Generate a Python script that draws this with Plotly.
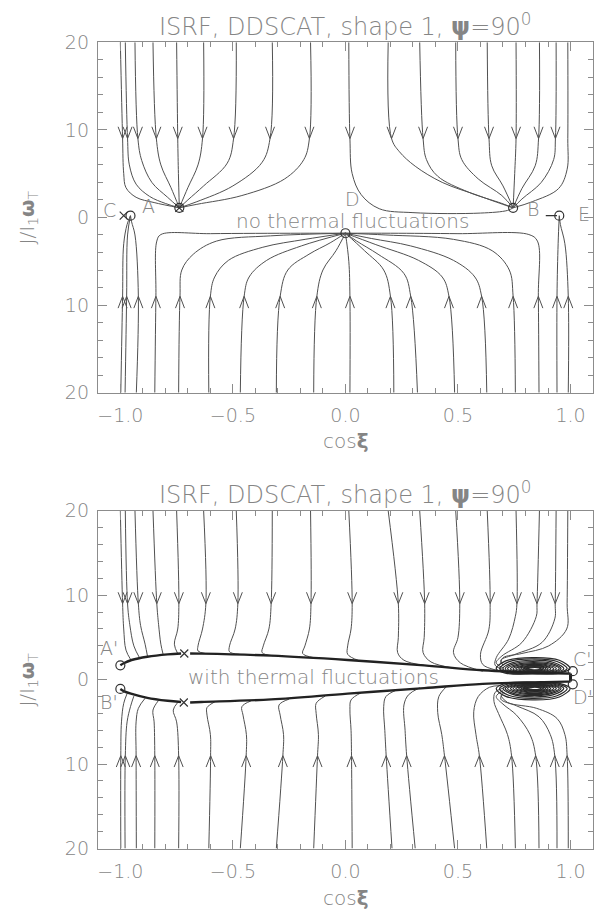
import plotly.graph_objects as go

# ---------------- data ----------------
X_TICKS = [-1.0, -0.5, 0.0, 0.5, 1.0]
X_TICK_TEXT = ["\u22121.0", "\u22120.5", "0.0", "0.5", "1.0"]
Y_TICKS = [-20, -10, 0, 10, 20]
Y_TICK_TEXT = ["20", "10", "0", "10", "20"]

TITLE = "ISRF, DDSCAT, shape 1, <b>\u03c8</b>=90<sup>0</sup>"

# top panel: trajectories coming from J>0 (flow downward)
TU_X = [
    [-1.0, -0.99, -0.985, -0.975, -0.93, -0.85, -0.738],
    [-0.978, -0.968, -0.96, -0.93, -0.87, -0.80, -0.738],
    [-0.935, -0.922, -0.905, -0.86, -0.79, -0.738],
    [-0.855, -0.84, -0.82, -0.775, -0.738],
    [-0.75, -0.745, -0.742, -0.738],
    [-0.63, -0.635, -0.655, -0.70, -0.738],
    [-0.485, -0.497, -0.525, -0.63, -0.70, -0.738],
    [-0.325, -0.335, -0.37, -0.50, -0.66, -0.738],
    [-0.155, -0.16, -0.185, -0.27, -0.46, -0.66, -0.738],
    [0.015, 0.02, 0.03, 0.07, 0.15, 0.30, 0.60, 0.72, 0.745],
    [0.19, 0.205, 0.24, 0.31, 0.43, 0.59, 0.71, 0.745],
    [0.33, 0.345, 0.36, 0.41, 0.546, 0.695, 0.745],
    [0.49, 0.5, 0.517, 0.59, 0.695, 0.745],
    [0.63, 0.638, 0.65, 0.70, 0.745],
    [0.758, 0.758, 0.752, 0.745],
    [0.862, 0.858, 0.843, 0.784, 0.745],
    [0.936, 0.933, 0.925, 0.87, 0.784, 0.745],
    [0.988, 0.988, 0.985, 0.947, 0.83, 0.745],
]
TU_Y = [
    [20, 9, 5, 3.4, 2.3, 1.7, 1.1],
    [20, 9, 6, 3.8, 2.4, 1.6, 1.1],
    [20, 9, 6.5, 4.0, 2.3, 1.1],
    [20, 9, 6, 3.4, 1.1],
    [20, 9, 5, 1.1],
    [20, 9, 6, 3.4, 1.1],
    [20, 9, 6.2, 3.6, 2.0, 1.1],
    [20, 9, 6.3, 3.6, 1.8, 1.1],
    [20, 9, 6.6, 4.4, 2.5, 1.5, 1.1],
    [20, 9, 5, 2.6, 1.0, 0.55, 0.5, 0.8, 1.1],
    [20, 9, 7.5, 5.85, 4.0, 2.5, 1.4, 1.1],
    [20, 9, 6.6, 4.7, 2.9, 1.6, 1.1],
    [20, 9, 6.6, 4.4, 2.5, 1.1],
    [20, 9, 5.9, 3.6, 1.1],
    [20, 9, 5, 1.1],
    [20, 9, 5.9, 3.3, 1.1],
    [20, 9, 6.6, 4.0, 2.1, 1.1],
    [20, 9, 5.5, 3.3, 1.8, 1.1],
]
TU_ARROW = [1] * 17 + [0]

# top panel: trajectories coming from J<0 (flow upward)
TL_X = [
    [-0.998, -0.99, -0.985, -0.97, -0.955],
    [-0.979, -0.972, -0.968, -0.955],
    [-0.929, -0.92, -0.935, -0.95, -0.955],
    [-0.847, -0.842, -0.838, -0.82, -0.6, -0.2, 0.0],
    [-0.741, -0.735, -0.727, -0.676, -0.573, -0.333, 0.0],
    [-0.607, -0.6, -0.581, -0.52, -0.367, -0.179, 0.0],
    [-0.467, -0.45, -0.428, -0.35, -0.196, 0.0],
    [-0.307, -0.29, -0.256, -0.162, -0.068, 0.0],
    [-0.141, -0.127, -0.1, -0.042, 0.0],
    [0.02, 0.02, 0.015, 0.0],
    [0.215, 0.2, 0.17, 0.085, 0.0],
    [0.32, 0.29, 0.26, 0.145, 0.05, 0.0],
    [0.485, 0.46, 0.43, 0.325, 0.135, 0.0],
    [0.628, 0.605, 0.575, 0.48, 0.29, 0.115, 0.0],
    [0.755, 0.745, 0.728, 0.652, 0.48, 0.18, 0.0],
    [0.86, 0.857, 0.853, 0.815, 0.5, 0.2, 0.0],
    [0.94, 0.94, 0.945, 0.95],
    [0.99, 0.99, 0.975, 0.955, 0.95],
]
TL_Y = [
    [-20, -9, -3, -0.8, 0.2],
    [-20, -9, -2, 0.2],
    [-20, -9, -2, -0.5, 0.2],
    [-20, -9, -2.7, -1.95, -1.85, -1.8, -1.8],
    [-20, -9, -6.0, -4.2, -2.7, -2.1, -1.8],
    [-20, -9, -6.8, -4.9, -3.4, -2.5, -1.8],
    [-20, -9, -6.8, -4.9, -3.25, -1.8],
    [-20, -9, -6.0, -4.2, -2.9, -1.8],
    [-20, -9, -6.0, -3.8, -1.8],
    [-20, -9, -5, -1.8],
    [-20, -9, -6.0, -3.8, -1.8],
    [-20, -9, -6.4, -4.2, -2.7, -1.8],
    [-20, -9, -6.8, -4.9, -3.1, -1.8],
    [-20, -9, -6.8, -4.9, -3.25, -2.4, -1.8],
    [-20, -9, -6.0, -3.8, -2.5, -2.0, -1.8],
    [-20, -9, -2.7, -1.95, -1.85, -1.8, -1.8],
    [-20, -9, -3, 0.2],
    [-20, -9, -3, -0.8, 0.2],
]
TL_ARROW = [1] * 18

TOP_CIRCLE_X = [-0.738, 0.745, -0.955, 0.0, 0.95]
TOP_CIRCLE_Y = [1.1, 1.1, 0.2, -1.8, 0.2]
TOP_CROSS_X = [-0.985, -0.738]
TOP_CROSS_Y = [0.2, 1.1]
TOP_DASH_X = [0.915]
TOP_DASH_Y = [0.2]
TOP_LABELS = ["C", "A", "D", "B", "E"]
TOP_LABEL_X = [-1.05, -0.875, 0.03, 0.835, 1.06]
TOP_LABEL_Y = [0.9, 1.3, 2.1, 1.0, 0.4]
TOP_NOTE = "no thermal fluctuations"
TOP_NOTE_XY = [0.03, -0.35]

# bottom panel: attracting curves
UCL_X = [-0.73, -0.79, -0.88, -0.95, -0.985, -1.0]
UCL_Y = [3.1, 3.0, 2.72, 2.33, 1.95, 1.7]
UCR_X = [-0.69, -0.64, -0.33, 0.01, 0.35, 0.61, 0.866, 0.985, 1.0]
UCR_Y = [3.1, 3.08, 2.84, 2.33, 1.69, 1.11, 0.8, 0.72, 0.72]
LCL_X = [-0.73, -0.79, -0.88, -0.953, -0.985, -1.0]
LCL_Y = [-2.65, -2.5, -2.15, -1.65, -1.35, -1.1]
LCR_X = [-0.69, -0.64, -0.33, 0.01, 0.35, 0.61, 0.866, 0.985, 1.0]
LCR_Y = [-2.7, -2.64, -2.34, -1.65, -1.0, -0.5, -0.3, -0.23, -0.23]
LINK_X = [1.0, 1.0]
LINK_Y = [0.72, -0.23]

BU_X = [
    [-1.0, -0.99, -0.985, -0.975, -0.953],
    [-0.978, -0.968, -0.958, -0.94, -0.915],
    [-0.935, -0.92, -0.91, -0.89, -0.879],
    [-0.855, -0.838, -0.83, -0.82, -0.81],
    [-0.75, -0.74, -0.745, -0.76, -0.745],
    [-0.63, -0.62, -0.635, -0.655, -0.655, -0.62],
    [-0.485, -0.478, -0.49, -0.515, -0.515, -0.47],
    [-0.325, -0.33, -0.34, -0.365, -0.37, -0.32],
    [-0.155, -0.153, -0.16, -0.18, -0.19, -0.14],
    [0.015, 0.03, 0.025, 0.01, 0.01, 0.06],
    [0.19, 0.235, 0.235, 0.232, 0.26, 0.35],
    [0.33, 0.352, 0.35, 0.345, 0.38, 0.487],
    [0.49, 0.508, 0.50, 0.48, 0.51, 0.61],
    [0.63, 0.643, 0.637, 0.60, 0.61, 0.66, 0.70],
    [0.758, 0.762, 0.755, 0.725, 0.67, 0.665, 0.70],
    [0.862, 0.851, 0.848, 0.784, 0.695, 0.67, 0.70],
    [0.936, 0.932, 0.93, 0.873, 0.754, 0.69, 0.70],
    [0.988, 0.985, 0.983, 0.903, 0.784, 0.70, 0.69],
]
BU_Y = [
    [20, 9, 6, 3.5, 2.33],
    [20, 9, 6.5, 4.0, 2.6],
    [20, 9, 6.4, 4.2, 2.72],
    [20, 9, 6.5, 4.2, 3.0],
    [20, 9, 6, 4.2, 3.08],
    [20, 9, 6, 4.0, 3.4, 3.08],
    [20, 9, 6, 4.0, 3.3, 3.0],
    [20, 9, 6, 4.0, 3.2, 2.82],
    [20, 9, 6, 4.0, 3.1, 2.6],
    [20, 9, 6, 4.0, 3.0, 2.25],
    [20, 9, 5, 3.2, 2.3, 1.69],
    [20, 9, 5, 3.2, 2.1, 1.35],
    [20, 9, 5, 3.2, 2.0, 1.0],
    [20, 9, 5.9, 3.0, 1.8, 1.2, 1.0],
    [20, 9, 7.5, 4.8, 2.6, 1.7, 1.2],
    [20, 9, 7.5, 4.4, 2.8, 2.0, 1.4],
    [20, 9, 7.2, 4.4, 3.0, 2.3, 1.7],
    [20, 9, 6, 4.0, 3.1, 2.6, 2.0],
]
BU_ARROW = [1] * 17 + [0]

BL_X = [
    [-0.998, -0.998, -0.995, -0.985, -0.97],
    [-0.979, -0.978, -0.97, -0.955, -0.94],
    [-0.929, -0.93, -0.93, -0.92, -0.89],
    [-0.847, -0.847, -0.85, -0.855, -0.83],
    [-0.741, -0.741, -0.75, -0.765, -0.745],
    [-0.607, -0.599, -0.6, -0.615, -0.615, -0.58],
    [-0.467, -0.441, -0.44, -0.455, -0.46, -0.42],
    [-0.307, -0.278, -0.275, -0.29, -0.295, -0.25],
    [-0.141, -0.124, -0.12, -0.13, -0.13, -0.09],
    [0.03, 0.027, 0.025, 0.02, 0.025, 0.07],
    [0.207, 0.181, 0.175, 0.17, 0.18, 0.23],
    [0.31, 0.272, 0.265, 0.26, 0.28, 0.33],
    [0.485, 0.44, 0.428, 0.41, 0.415, 0.45],
    [0.628, 0.595, 0.58, 0.57, 0.59, 0.64, 0.69],
    [0.755, 0.738, 0.72, 0.68, 0.66, 0.665, 0.70],
    [0.86, 0.845, 0.82, 0.76, 0.70, 0.67, 0.70],
    [0.94, 0.93, 0.91, 0.86, 0.76, 0.69, 0.70],
    [0.99, 0.985, 0.975, 0.94, 0.85, 0.72, 0.69],
]
BL_Y = [
    [-20, -9, -5, -2.8, -1.65],
    [-20, -9, -5, -3.2, -1.95],
    [-20, -9, -5, -3.4, -2.2],
    [-20, -9, -5, -3.6, -2.45],
    [-20, -9, -5, -3.6, -2.7],
    [-20, -9, -6.5, -4.2, -3.3, -2.62],
    [-20, -9, -6.5, -4.2, -3.2, -2.52],
    [-20, -9, -6.5, -4.2, -3.0, -2.3],
    [-20, -9, -6.5, -4.0, -2.8, -1.95],
    [-20, -9, -6, -3.5, -2.4, -1.55],
    [-20, -9, -6, -3.2, -2.0, -1.2],
    [-20, -9, -6, -3.0, -1.8, -0.96],
    [-20, -9, -6.5, -3.9, -2.0, -0.8],
    [-20, -9, -6.5, -3.8, -2.0, -0.9, -0.7],
    [-20, -9, -6.5, -4.0, -2.6, -1.5, -1.0],
    [-20, -9, -6.5, -4.2, -2.9, -2.0, -1.3],
    [-20, -9, -6.5, -4.4, -3.1, -2.3, -1.6],
    [-20, -9, -6.5, -4.6, -3.4, -2.7, -1.9],
]
BL_ARROW = [1] * 18

# dense closed orbits near cos(xi) ~ 0.83
LOOP_X = [
    [0.67, 0.71, 0.83, 0.95, 0.998, 0.95, 0.83, 0.71, 0.67],
    [0.685, 0.725, 0.83, 0.94, 0.985, 0.94, 0.83, 0.725, 0.685],
    [0.70, 0.74, 0.83, 0.925, 0.97, 0.93, 0.83, 0.74, 0.70],
    [0.71, 0.75, 0.833, 0.915, 0.958, 0.92, 0.833, 0.75, 0.71],
    [0.72, 0.76, 0.835, 0.91, 0.95, 0.91, 0.835, 0.76, 0.72],
    [0.733, 0.77, 0.835, 0.9, 0.937, 0.9, 0.835, 0.77, 0.733],
    [0.745, 0.78, 0.835, 0.895, 0.925, 0.895, 0.835, 0.78, 0.745],
    [0.757, 0.79, 0.838, 0.888, 0.912, 0.888, 0.838, 0.79, 0.757],
    [0.77, 0.80, 0.84, 0.88, 0.90, 0.88, 0.84, 0.80, 0.77],
    [0.78, 0.808, 0.84, 0.872, 0.89, 0.872, 0.84, 0.808, 0.78],
    [0.79, 0.815, 0.84, 0.865, 0.88, 0.865, 0.84, 0.815, 0.79],
    [0.80, 0.822, 0.842, 0.86, 0.87, 0.86, 0.842, 0.822, 0.80],
]
LOOP_UP_Y = [
    [1.3, 2.2, 2.6, 2.3, 1.3, 0.78, 0.68, 0.78, 1.3],
    [1.3, 2.1, 2.45, 2.15, 1.3, 0.8, 0.7, 0.8, 1.3],
    [1.3, 1.98, 2.3, 2.03, 1.3, 0.84, 0.74, 0.84, 1.3],
    [1.3, 1.9, 2.15, 1.92, 1.3, 0.87, 0.77, 0.87, 1.3],
    [1.3, 1.8, 2.02, 1.82, 1.3, 0.9, 0.8, 0.9, 1.3],
    [1.3, 1.72, 1.9, 1.73, 1.3, 0.93, 0.83, 0.93, 1.3],
    [1.3, 1.65, 1.8, 1.65, 1.3, 0.95, 0.86, 0.95, 1.3],
    [1.3, 1.6, 1.7, 1.6, 1.3, 1.0, 0.9, 1.0, 1.3],
    [1.3, 1.55, 1.62, 1.55, 1.3, 1.05, 0.95, 1.05, 1.3],
    [1.3, 1.5, 1.56, 1.5, 1.3, 1.1, 1.02, 1.1, 1.3],
    [1.3, 1.45, 1.5, 1.45, 1.3, 1.15, 1.08, 1.15, 1.3],
    [1.3, 1.4, 1.44, 1.4, 1.3, 1.2, 1.15, 1.2, 1.3],
]
LOOP_LO_Y = [
    [-1.05, -1.95, -2.4, -2.05, -1.05, -0.45, -0.3, -0.45, -1.05],
    [-1.05, -1.85, -2.22, -1.9, -1.05, -0.5, -0.35, -0.5, -1.05],
    [-1.05, -1.72, -2.05, -1.78, -1.05, -0.55, -0.42, -0.55, -1.05],
    [-1.05, -1.65, -1.9, -1.66, -1.05, -0.6, -0.48, -0.6, -1.05],
    [-1.05, -1.55, -1.78, -1.56, -1.05, -0.65, -0.55, -0.65, -1.05],
    [-1.05, -1.48, -1.66, -1.48, -1.05, -0.68, -0.58, -0.68, -1.05],
    [-1.05, -1.4, -1.55, -1.4, -1.05, -0.72, -0.62, -0.72, -1.05],
    [-1.05, -1.35, -1.46, -1.35, -1.05, -0.76, -0.67, -0.76, -1.05],
    [-1.05, -1.3, -1.38, -1.3, -1.05, -0.8, -0.72, -0.8, -1.05],
    [-1.05, -1.25, -1.31, -1.25, -1.05, -0.85, -0.78, -0.85, -1.05],
    [-1.05, -1.2, -1.25, -1.2, -1.05, -0.9, -0.83, -0.9, -1.05],
    [-1.05, -1.15, -1.19, -1.15, -1.05, -0.95, -0.9, -0.95, -1.05],
]

BOT_CIRCLE_X = [-1.0, -1.0, 1.01, 1.01]
BOT_CIRCLE_Y = [1.7, -1.1, 1.0, -0.55]
BOT_CROSS_X = [-0.716, -0.718]
BOT_CROSS_Y = [3.1, -2.7]
BOT_LABELS = ["A'", "B'", "C'", "D'"]
BOT_LABEL_X = [-1.05, -1.05, 1.055, 1.055]
BOT_LABEL_Y = [3.8, -2.7, 2.45, -2.0]
BOT_NOTE = "with thermal fluctuations"
BOT_NOTE_XY = [-0.14, 0.3]

# ---------------- styling ----------------
FONT = "DejaVu Sans"
TXT = "#858585"
LINE = "#505050"
AXC = "#8c8c8c"
W, H = 607, 922
PX_L, PX_R = 97, 593
TOP_T, TOP_B = 32, 391
BOT_T, BOT_B = 512, 858

fig = go.Figure()


def add_line(xs, ys, xa, ya, width=1.0, color=LINE, spline=True):
    fig.add_trace(go.Scatter(
        x=xs, y=ys, xaxis=xa, yaxis=ya, mode="lines", hoverinfo="skip",
        line=dict(color=color, width=width,
                  shape="spline" if spline else "linear", smoothing=1.0)))


def add_group(X, Y, flags, xa, ya):
    ax, ay = [], []
    for xs, ys, f in zip(X, Y, flags):
        add_line(xs, ys, xa, ya)
        if f:
            xt, yt = xs[1], ys[1]
            s = 1 if yt > 0 else -1
            ax += [xt - 0.02, xt, xt + 0.02, None]
            ay += [yt + s * 1.35, yt, yt + s * 1.35, None]
    fig.add_trace(go.Scatter(x=ax, y=ay, xaxis=xa, yaxis=ya, mode="lines",
                             hoverinfo="skip", line=dict(color=LINE, width=1)))


def font(size):
    return dict(family=FONT, size=size, color=TXT, weight=300)


# top panel
add_group(TU_X, TU_Y, TU_ARROW, "x", "y")
add_group(TL_X, TL_Y, TL_ARROW, "x", "y")
fig.add_trace(go.Scatter(x=TOP_CIRCLE_X, y=TOP_CIRCLE_Y, mode="markers", xaxis="x", yaxis="y",
                         marker=dict(symbol="circle-open", size=9, color="#333", line=dict(width=1.2))))
fig.add_trace(go.Scatter(x=TOP_CROSS_X, y=TOP_CROSS_Y, mode="markers", xaxis="x", yaxis="y",
                         marker=dict(symbol="x-thin-open", size=8, color="#333", line=dict(width=1.2))))
fig.add_trace(go.Scatter(x=TOP_DASH_X, y=TOP_DASH_Y, mode="markers", xaxis="x", yaxis="y",
                         marker=dict(symbol="line-ew-open", size=8, color="#333", line=dict(width=1.2))))

# bottom panel
add_group(BU_X, BU_Y, BU_ARROW, "x2", "y2")
add_group(BL_X, BL_Y, BL_ARROW, "x2", "y2")
for lx, ly in zip(LOOP_X, LOOP_UP_Y):
    add_line(lx, ly, "x2", "y2", width=1.2, color="#2a2a2a")
for lx, ly in zip(LOOP_X, LOOP_LO_Y):
    add_line(lx, ly, "x2", "y2", width=1.2, color="#2a2a2a")
for cx, cy in [(UCL_X, UCL_Y), (UCR_X, UCR_Y), (LCL_X, LCL_Y), (LCR_X, LCR_Y)]:
    add_line(cx, cy, "x2", "y2", width=2.4, color="#222")
add_line(LINK_X, LINK_Y, "x2", "y2", width=3, color="#222", spline=False)
fig.add_trace(go.Scatter(x=BOT_CIRCLE_X, y=BOT_CIRCLE_Y, mode="markers", xaxis="x2", yaxis="y2",
                         marker=dict(symbol="circle-open", size=9, color="#333", line=dict(width=1.2))))
fig.add_trace(go.Scatter(x=BOT_CROSS_X, y=BOT_CROSS_Y, mode="markers", xaxis="x2", yaxis="y2",
                         marker=dict(symbol="x-thin-open", size=8, color="#333", line=dict(width=1.2))))

# annotations
ann = []
for t, x, y in zip(TOP_LABELS, TOP_LABEL_X, TOP_LABEL_Y):
    ann.append(dict(x=x, y=y, xref="x", yref="y", text=t, showarrow=False, font=font(19)))
for t, x, y in zip(BOT_LABELS, BOT_LABEL_X, BOT_LABEL_Y):
    ann.append(dict(x=x, y=y, xref="x2", yref="y2", text=t, showarrow=False, font=font(19)))
ann.append(dict(x=TOP_NOTE_XY[0], y=TOP_NOTE_XY[1], xref="x", yref="y", text=TOP_NOTE,
                showarrow=False, font=font(20)))
ann.append(dict(x=BOT_NOTE_XY[0], y=BOT_NOTE_XY[1], xref="x2", yref="y2", text=BOT_NOTE,
                showarrow=False, font=font(20)))

cx = (PX_L + PX_R) / 2 / W
for ypx in (14, 494):
    ann.append(dict(x=cx, y=1 - ypx / H, xref="paper", yref="paper", text=TITLE,
                    showarrow=False, yanchor="middle", font=font(24)))
for ypx in (440, 909):
    ann.append(dict(x=cx, y=1 - ypx / H, xref="paper", yref="paper", text="cos<b>\u03be</b>",
                    showarrow=False, yanchor="middle", font=font(20)))
for ypx in ((TOP_T + TOP_B) / 2, (BOT_T + BOT_B) / 2):
    ann.append(dict(x=27 / W, y=1 - ypx / H, xref="paper", yref="paper",
                    text="J/I<sub>1</sub><b>\u03c9</b><sub>T</sub>", textangle=-90,
                    showarrow=False, xanchor="center", yanchor="middle", font=font(20)))


def xaxis(anchor):
    return dict(domain=[PX_L / W, PX_R / W], anchor=anchor, range=[-1.1, 1.1],
                tickvals=X_TICKS, ticktext=X_TICK_TEXT, ticks="inside", ticklen=9,
                tickcolor=AXC, tickwidth=1, showline=True, linecolor=AXC, linewidth=1,
                mirror="allticks", showgrid=False, zeroline=False,
                tickfont=font(19), ticklabelstandoff=6,
                minor=dict(ticks="inside", dtick=0.1, tick0=0, ticklen=5, tickcolor=AXC,
                           showgrid=False))


def yaxis(anchor, top, bot):
    return dict(domain=[1 - bot / H, 1 - top / H], anchor=anchor, range=[-20, 20],
                tickvals=Y_TICKS, ticktext=Y_TICK_TEXT, ticks="inside", ticklen=9,
                tickcolor=AXC, tickwidth=1, showline=True, linecolor=AXC, linewidth=1,
                mirror="allticks", showgrid=False, zeroline=False,
                tickfont=font(19), ticklabelstandoff=4,
                minor=dict(ticks="inside", dtick=2, tick0=0, ticklen=5, tickcolor=AXC,
                           showgrid=False))


fig.update_layout(
    width=W, height=H, margin=dict(l=0, r=0, t=0, b=0),
    paper_bgcolor="white", plot_bgcolor="white", showlegend=False,
    xaxis=xaxis("y"), yaxis=yaxis("x", TOP_T, TOP_B),
    xaxis2=xaxis("y2"), yaxis2=yaxis("x2", BOT_T, BOT_B),
    annotations=ann,
)

fig.write_html("out.html")
